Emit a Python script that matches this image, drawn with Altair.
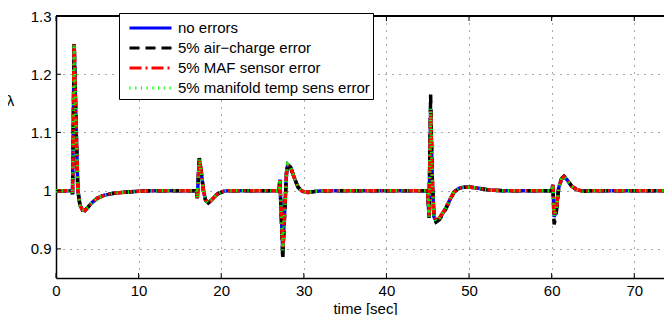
import altair as alt
import pandas as pd

# time samples [sec]
t = [0.0, 1.9, 2.0, 2.2, 2.45, 2.65, 2.9, 3.2, 3.5, 3.9, 4.4, 5.0, 5.8, 6.8, 8.0, 10.0, 12.0,
     17.0, 17.1, 17.35, 17.6, 17.85, 18.1, 18.45, 18.9, 19.5, 20.3, 21.0,
     27.0, 27.1, 27.3, 27.45, 27.7, 27.9, 28.05, 28.4, 28.9, 29.3, 29.8, 30.5, 31.5, 33.0,
     45.0, 45.15, 45.35, 45.55, 45.75, 46.0, 46.4, 47.0, 47.6, 48.2, 48.8, 49.4, 50.2, 51.2, 52.5, 54.0,
     60.0, 60.15, 60.3, 60.55, 60.85, 61.2, 61.5, 61.9, 62.4, 63.0, 63.8, 65.0, 76.0]

lam_none = [1.0, 1.0, 0.994, 1.252, 1.10, 1.0, 0.975, 0.967, 0.966, 0.972, 0.980, 0.987, 0.992, 0.995, 0.997, 0.999, 1.0,
            1.0, 0.987, 1.055, 1.03, 1.0, 0.984, 0.979, 0.985, 0.994, 0.999, 1.0,
            1.0, 1.019, 0.95, 0.898, 0.97, 1.03, 1.045, 1.04, 1.02, 1.006, 0.999, 0.997, 0.999, 1.0,
            1.0, 0.955, 1.14, 1.02, 0.955, 0.948, 0.952, 0.965, 0.982, 0.998, 1.004, 1.006, 1.006, 1.004, 1.001, 1.0,
            1.0, 1.01, 0.955, 0.965, 1.005, 1.02, 1.024, 1.018, 1.008, 1.002, 0.999, 1.0, 1.0]

lam_air = [1.0, 1.0, 0.994, 1.252, 1.10, 1.0, 0.975, 0.967, 0.966, 0.972, 0.980, 0.987, 0.992, 0.995, 0.997, 0.999, 1.0,
           1.0, 0.987, 1.056, 1.03, 1.0, 0.984, 0.979, 0.985, 0.994, 0.999, 1.0,
           1.0, 1.02, 0.94, 0.882, 0.965, 1.03, 1.046, 1.04, 1.02, 1.006, 0.999, 0.997, 0.999, 1.0,
           1.0, 0.953, 1.165, 1.02, 0.952, 0.946, 0.95, 0.963, 0.981, 0.998, 1.004, 1.006, 1.006, 1.004, 1.001, 1.0,
           1.0, 1.01, 0.942, 0.96, 1.005, 1.021, 1.025, 1.019, 1.008, 1.002, 0.999, 1.0, 1.0]

lam_maf = [1.0, 1.0, 0.994, 1.252, 1.10, 1.0, 0.975, 0.967, 0.966, 0.972, 0.980, 0.987, 0.992, 0.995, 0.997, 0.999, 1.0,
           1.0, 0.987, 1.054, 1.03, 1.0, 0.984, 0.979, 0.985, 0.994, 0.999, 1.0,
           1.0, 1.018, 0.95, 0.9, 0.97, 1.03, 1.044, 1.04, 1.02, 1.006, 0.999, 0.997, 0.999, 1.0,
           1.0, 0.956, 1.138, 1.02, 0.956, 0.949, 0.953, 0.966, 0.983, 0.998, 1.004, 1.006, 1.006, 1.004, 1.001, 1.0,
           1.0, 1.01, 0.957, 0.966, 1.005, 1.02, 1.024, 1.018, 1.008, 1.002, 0.999, 1.0, 1.0]

lam_temp = [1.0, 1.0, 0.994, 1.252, 1.10, 1.0, 0.975, 0.967, 0.966, 0.972, 0.980, 0.987, 0.992, 0.995, 0.997, 0.999, 1.0,
            1.0, 0.987, 1.055, 1.03, 1.0, 0.984, 0.979, 0.985, 0.994, 0.999, 1.0,
            1.0, 1.019, 0.95, 0.897, 0.97, 1.03, 1.045, 1.04, 1.02, 1.006, 0.999, 0.997, 0.999, 1.0,
            1.0, 0.955, 1.142, 1.02, 0.955, 0.948, 0.952, 0.965, 0.982, 0.998, 1.004, 1.006, 1.006, 1.004, 1.001, 1.0,
            1.0, 1.01, 0.955, 0.965, 1.005, 1.02, 1.024, 1.018, 1.008, 1.002, 0.999, 1.0, 1.0]

series = ["no errors", "5% air\u2212charge error", "5% MAF sensor error", "5% manifold temp sens error"]
colors = ["#0000ff", "#000000", "#ff0000", "#00ff00"]
dashes = [[1, 0], [10, 6], [12, 4, 2, 4], [1.2, 4.5]]

x_ticks = [0, 10, 20, 30, 40, 50, 60, 70]
y_ticks = [0.9, 1.0, 1.1, 1.2, 1.3]

W, H = 608, 262

rows = []
for name, vals in zip(series, [lam_none, lam_air, lam_maf, lam_temp]):
    for ti, v in zip(t, vals):
        rows.append({"t": ti, "lam": v, "series": name})
df = pd.DataFrame(rows)

xscale = alt.Scale(domain=[0, 73.6], nice=False, zero=False)
yscale = alt.Scale(domain=[0.85, 1.3], nice=False, zero=False)
xaxis = alt.Axis(values=x_ticks, title="time [sec]", grid=True, ticks=False, labelPadding=5,
                 labelFlush=False, labelOverlap=False, titleX=309, titleY=23, titleBaseline="top",
                 titleAlign="center")
yaxis = alt.Axis(values=y_ticks, title="\u03bb", grid=True, ticks=False, labelPadding=5,
                 format=".2~f", titleAngle=0, titleX=-46, titleY=84, titleAlign="center",
                 titleBaseline="middle", labelOverlap=False, labelFlush=False)

X = alt.X("t:Q", scale=xscale, axis=xaxis)
Y = alt.Y("lam:Q", scale=yscale, axis=yaxis)
legend = alt.Legend(orient="none", legendX=63, legendY=-3)
color = alt.Color("series:N", scale=alt.Scale(domain=series, range=colors), title=None, legend=legend)
dash = alt.StrokeDash("series:N", scale=alt.Scale(domain=series, range=dashes), title=None, legend=legend)

layers = []
for name in series:
    layers.append(
        alt.Chart(df).transform_filter(alt.datum.series == name)
        .mark_line(strokeWidth=3.5, clip=True)
        .encode(x=X, y=Y, color=color, strokeDash=dash, order="t:Q")
    )

xt = pd.DataFrame({"t": x_ticks})
yt = pd.DataFrame({"lam": y_ticks})
tick_bottom = alt.Chart(xt).mark_rule(color="black", strokeWidth=1).encode(
    x=X, y=alt.value(H), y2=alt.value(H - 5))
tick_top = alt.Chart(xt).mark_rule(color="black", strokeWidth=1).encode(
    x=X, y=alt.value(0), y2=alt.value(5))
tick_left = alt.Chart(yt).mark_rule(color="black", strokeWidth=1).encode(
    y=Y, x=alt.value(0), x2=alt.value(5))
top_border = alt.Chart(xt).mark_rule(color="black", strokeWidth=1.5).encode(
    x=alt.value(0), x2=alt.value(W), y=alt.value(0))

chart = alt.layer(*layers, tick_bottom, tick_top, tick_left, top_border).properties(
    width=W, height=H,
    padding={"left": 48, "top": 8, "right": 0, "bottom": 37},
    autosize=alt.AutoSizeParams(type="none"),
).configure_view(stroke=None).configure_axis(
    labelFont="Liberation Sans", labelFontSize=15, labelColor="black",
    titleFont="Liberation Sans", titleFontSize=15, titleColor="black", titleFontWeight="normal",
    domainColor="black", domainWidth=1.5,
    gridColor="#555555", gridDash=[1, 6], gridWidth=1, gridOpacity=1,
).configure_legend(
    strokeColor="black", fillColor="white", padding=3, cornerRadius=0,
    symbolType="M-0.4286,0H3.571", symbolSize=441, symbolStrokeWidth=3,
    labelFont="Liberation Sans", labelFontSize=15, labelColor="black",
    rowPadding=0, labelOffset=32, labelLimit=400,
)

chart.save("out.html", embed_options={"renderer": "svg", "actions": False})
